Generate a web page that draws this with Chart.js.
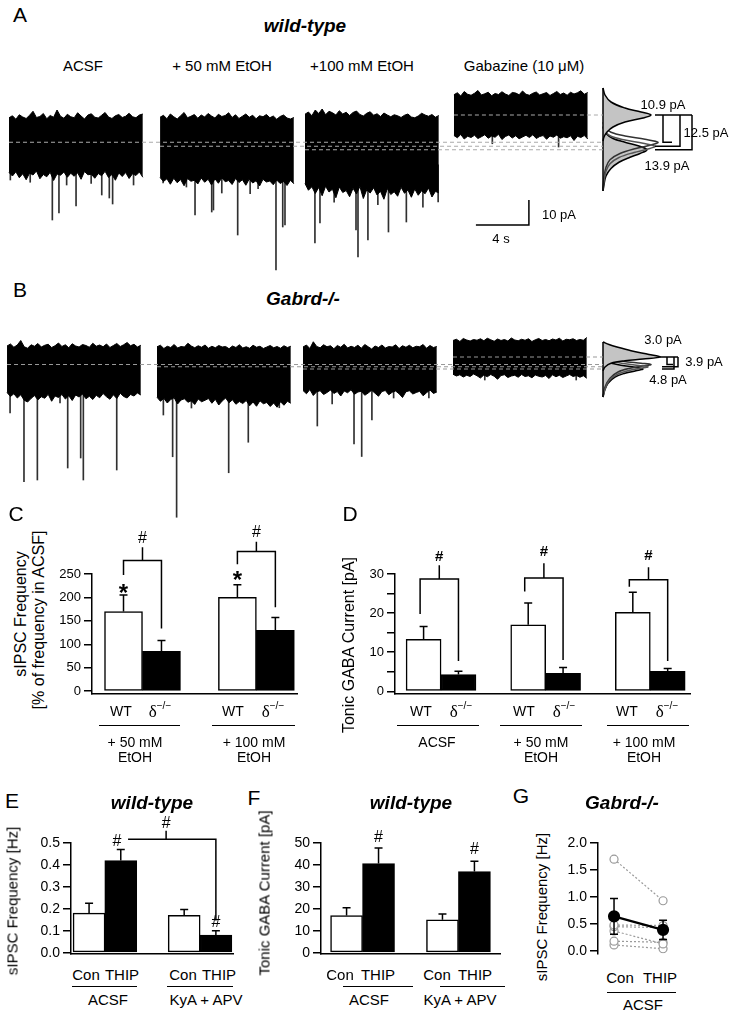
<!DOCTYPE html>
<html><head><meta charset="utf-8">
<script src="https://cdn.jsdelivr.net/npm/chart.js@4.4.1/dist/chart.umd.min.js"></script>
<style>
html,body{margin:0;padding:0;background:#fff;}
body{width:734px;height:1014px;position:relative;overflow:hidden;font-family:"Liberation Sans",Arial,sans-serif;color:#000;}
canvas{position:absolute;}
.t{position:absolute;white-space:nowrap;transform:translate(-50%,-50%);line-height:1;}
.rot{transform:translate(-50%,-50%) rotate(-90deg);}
.hl{position:absolute;height:0;border-top:1.5px solid #000;}
</style></head><body>
<canvas id="cA" width="734" height="190" style="left:0;top:85px"></canvas>
<canvas id="cB" width="734" height="195" style="left:0;top:330px"></canvas>
<canvas id="cC" width="260" height="180" style="left:50px;top:525px"></canvas>
<canvas id="cD" width="370" height="180" style="left:350px;top:525px"></canvas>
<canvas id="cE" width="220" height="165" style="left:20px;top:800px"></canvas>
<canvas id="cF" width="240" height="165" style="left:270px;top:800px"></canvas>
<canvas id="cG" width="184" height="135" style="left:550px;top:830px"></canvas>
<script>
// ===================== DATA =====================
// ---- Panels A/B: recording conditions
const conditions = ['ACSF', '+ 50 mM EtOH', '+100 mM EtOH', 'Gabazine (10 μM)'];
// mean holding current of each trace relative to ACSF (pA)
const meansA = [0, -1.6, -3.0, 10.9];
const meansB = [0, -0.9, -1.8, 3.0];
const shiftLabelsA = ['10.9 pA', '12.5 pA', '13.9 pA'];
const shiftLabelsB = ['3.0 pA', '3.9 pA', '4.8 pA'];
// noise envelope (upper / lower edge, pA relative to trace mean), 10-s traces
const topA_acsf = [9.8,10.6,9.2,11.0,10.1,9.5,10.8,12.4,9.9,10.3,11.5,9.4,10.7,10.0,12.9,10.4,9.6,11.2,10.2,9.8,11.8,10.5,9.3,10.9,11.4,10.0,9.7,10.8,11.9,10.1,9.5,10.6,11.1,9.9,10.4,11.6,10.2,9.8,10.9,11.3];
const botA_acsf = [-12.1,-13.5,-11.8,-14.2,-12.6,-15.0,-12.3,-13.1,-11.5,-14.6,-12.9,-13.8,-12.0,-15.3,-12.7,-13.2,-11.9,-14.0,-12.4,-13.6,-12.2,-14.8,-11.7,-13.0,-12.8,-14.4,-12.5,-13.4,-11.6,-14.1,-12.9,-15.2,-12.3,-13.7,-12.1,-14.5,-12.6,-13.3,-11.9,-14.0];
const topA_e50 = [11.6,12.4,11.0,12.9,11.8,10.9,12.2,13.5,11.4,12.0,12.7,11.2,12.5,11.7,13.1,12.1,11.3,12.8,11.9,12.3,13.4,11.5,12.6,11.1,12.0,12.9,11.6,12.4,11.0,12.2,11.8,12.7,11.4,12.1,10.8,11.9,12.5,11.3,10.9,11.5];
const botA_e50 = [-12.5,-14.1,-13.0,-15.2,-12.8,-14.6,-13.3,-15.8,-12.9,-14.0,-13.6,-15.1,-12.7,-14.4,-13.2,-15.5,-13.0,-14.8,-12.6,-14.2,-13.7,-15.3,-12.9,-14.5,-13.4,-15.6,-13.1,-14.7,-13.8,-15.9,-13.2,-14.3,-13.9,-15.4,-13.5,-14.9,-14.1,-15.7,-13.6,-15.0];
const topA_e100 = [14.2,15.1,13.6,15.9,14.5,16.3,14.0,15.4,14.8,13.9,15.6,14.3,15.0,13.7,14.9,15.5,14.1,13.5,14.6,15.2,13.8,14.4,13.3,14.7,13.9,13.2,14.0,13.6,12.9,13.8,14.3,13.1,12.8,13.5,14.6,13.9,13.4,14.1,13.0,13.7];
const botA_e100 = [-13.5,-16.2,-14.8,-17.5,-15.1,-18.4,-14.6,-16.9,-15.8,-19.2,-14.9,-17.1,-16.3,-18.8,-15.4,-17.7,-14.7,-19.5,-16.0,-17.3,-15.2,-18.1,-16.6,-19.8,-15.5,-17.9,-16.8,-18.6,-15.0,-17.4,-16.1,-19.0,-15.7,-18.2,-16.4,-17.6,-15.3,-18.9,-16.7,-17.2];
const topA_gab = [8.1,8.9,7.6,9.4,8.3,7.9,8.7,9.8,8.0,8.5,9.1,7.7,8.6,8.2,9.3,8.4,7.8,9.0,8.8,8.1,9.6,8.3,7.9,8.7,9.2,8.0,8.5,9.0,7.8,8.6,9.4,8.2,8.8,7.9,9.1,8.4,8.9,9.7,8.3,9.0];
const botA_gab = [-8.2,-9.1,-7.8,-9.6,-8.5,-9.0,-8.1,-9.4,-8.7,-7.9,-9.3,-8.4,-8.9,-7.7,-9.8,-8.6,-8.0,-9.2,-8.3,-9.5,-8.8,-8.1,-9.0,-7.9,-9.4,-8.6,-8.2,-9.7,-8.4,-8.9,-8.0,-9.3,-8.7,-9.1,-8.3,-10.2,-8.5,-9.0,-8.2,-9.6];
const topB_acsf = [7.4,8.2,6.9,7.8,9.6,7.1,6.5,7.9,7.3,8.4,7.0,7.7,8.1,6.8,7.5,8.6,7.2,7.9,6.7,8.3,7.4,7.0,8.0,7.6,6.9,8.5,7.3,7.8,7.1,8.2,6.8,7.6,8.4,7.2,7.9,8.8,7.5,8.1,7.0,7.7];
const botB_acsf = [-11.2,-12.8,-11.7,-13.4,-12.1,-14.3,-15.0,-13.6,-12.4,-14.1,-12.9,-13.5,-11.9,-14.7,-12.6,-13.2,-12.0,-13.8,-12.5,-14.4,-12.2,-13.0,-11.8,-13.7,-12.7,-14.0,-12.3,-13.3,-11.6,-12.9,-13.9,-12.1,-13.6,-11.5,-12.8,-13.4,-12.0,-12.6,-11.4,-12.2];
const topB_e50 = [8.0,8.6,7.3,8.2,7.7,8.9,7.5,8.1,7.9,9.4,8.3,7.6,8.4,7.8,8.7,7.4,8.2,7.6,8.5,7.9,8.1,7.2,8.3,7.7,8.8,7.5,8.0,7.4,8.6,7.8,8.2,7.3,7.9,8.5,7.6,8.1,7.4,8.4,7.7,8.2];
const botB_e50 = [-12.2,-13.8,-12.6,-14.5,-13.1,-12.4,-14.9,-13.3,-12.8,-14.2,-13.6,-15.1,-12.9,-14.0,-13.4,-12.7,-14.6,-13.0,-15.3,-13.7,-12.5,-14.4,-13.2,-15.0,-13.9,-14.7,-13.5,-15.6,-14.1,-15.8,-13.6,-14.8,-14.3,-15.9,-14.5,-16.2,-14.0,-15.4,-13.8,-14.6];
const topB_e100 = [8.8,9.6,8.2,10.9,9.0,8.5,9.7,8.9,9.3,8.1,9.4,8.7,9.9,8.4,9.1,8.6,9.5,8.3,9.8,8.9,8.0,9.2,8.6,9.6,8.4,9.0,8.8,9.7,8.2,9.3,8.7,9.5,8.5,9.1,8.9,9.8,8.3,9.4,8.6,9.0];
const botB_e100 = [-8.6,-9.9,-8.2,-10.6,-9.1,-8.7,-10.2,-9.4,-8.4,-9.8,-9.0,-10.8,-8.8,-9.5,-8.3,-10.1,-9.2,-8.9,-10.5,-9.6,-8.5,-9.7,-10.9,-9.0,-8.6,-10.3,-9.3,-8.8,-9.9,-11.4,-9.1,-8.7,-10.0,-9.4,-8.9,-10.7,-9.5,-8.4,-9.8,-9.2];
const topB_gab = [6.6,7.1,6.2,7.4,6.8,6.4,7.0,6.7,7.3,6.5,7.5,6.9,6.3,7.2,6.6,7.0,6.4,7.6,6.8,6.5,7.1,6.7,7.3,6.2,6.9,7.4,6.6,7.0,6.5,7.2,6.8,7.5,6.4,7.1,6.9,7.3,6.6,7.0,6.7,7.8];
const botB_gab = [-6.9,-7.6,-7.1,-8.0,-7.3,-7.8,-6.8,-7.5,-8.4,-7.2,-7.9,-7.0,-7.7,-8.9,-7.4,-7.1,-8.2,-7.6,-7.3,-8.1,-7.0,-7.8,-7.5,-8.3,-7.2,-7.7,-8.0,-7.4,-8.6,-7.1,-7.9,-7.3,-8.2,-7.6,-7.0,-7.8,-7.4,-8.1,-7.5,-8.5];
// sIPSC events: [time in trace (s), peak (pA rel. trace mean)]
const evA_acsf = [[0.1,-15.1],[1.6,-16.0],[3.27,-31.1],[3.77,-28.3],[4.35,-17.1],[5.06,-25.5],[6.2,-16.5],[7.0,-21.1],[7.57,-22.3],[7.82,-24.7],[9.4,-17.1]];
const evA_e50 = [[0.23,-14.7],[1.99,-16.3],[2.64,-27.5],[3.9,-26.3],[4.03,-25.5],[4.66,-18.7],[5.86,-35.5],[6.8,-19.0],[7.4,-17.0],[8.75,-49.5],[9.26,-32.3],[9.43,-31.5]];
const evA_e100 = [[0.75,-37.3],[1.13,-29.3],[2.2,-21.0],[3.85,-32.1],[4.0,-42.9],[4.75,-36.1],[5.5,-22.0],[6.3,-32.9],[7.65,-28.9],[8.9,-23.0],[10.05,-20.9]];
const evA_gab = [[2.9,-11.5],[7.9,-12.8]];
const evB_acsf = [[0.23,-19.4],[1.28,-46.9],[2.29,-46.2],[4.0,-15.4],[4.58,-41.4],[5.56,-37.4],[5.76,-46.2],[8.28,-42.2]];
const evB_e50 = [[0.48,-19.3],[1.18,-36.0],[1.48,-60.2],[2.6,-16.5],[5.41,-42.4],[6.89,-30.2],[9.23,-16.4]];
const evB_e100 = [[1.08,-22.8],[2.2,-14.0],[3.85,-30.0],[4.43,-35.0],[5.2,-20.4],[6.84,-11.6],[9.5,-11.6]];
const evB_gab = [[2.4,-9.2],[9.3,-9.2]];
// all-points histograms: [current (pA rel. ACSF mean), relative count]
const histA_gab = [[21.7,0],[18.9,2],[16.1,8],[13.7,22],[12.1,38],[10.9,48],[9.7,40],[8.1,22],[6.1,10],[4.1,4],[2.1,1],[0.5,0]];
const histA_acsf = [[8,0],[6,2],[4,8],[2.5,22],[1.2,42],[0,55],[-1.2,47],[-2.5,33],[-4.5,17],[-7,7],[-10,3],[-14,1],[-19,0]];
const histA_e50 = [[6.4,0],[4.4,2],[2.4,8],[0.9,22],[-0.4,40],[-1.6,52],[-2.8,44],[-4.1,31],[-6.1,16],[-8.6,7],[-11.6,3],[-15.6,1],[-19.5,0]];
const histA_e100 = [[6,0],[3.5,3],[1.5,10],[0,22],[-1.5,36],[-3,44],[-4.5,37],[-6,27],[-8,16],[-10.5,8],[-13.5,3],[-17,1],[-19.5,0]];
const histB_gab = [[9,0],[8,6],[7,14],[5.5,28],[4,46],[3,57],[2.2,40],[1.5,22],[0.5,8],[-1,2],[-2.5,0]];
const histB_acsf = [[4,0],[2.5,6],[1.3,20],[0.5,38],[0,48],[-0.6,40],[-1.5,27],[-3,15],[-5.5,7],[-9,2],[-13,0]];
const histB_e50 = [[3,0],[1.6,6],[0.4,20],[-0.4,36],[-0.9,45],[-1.5,38],[-2.4,26],[-4,14],[-6.5,6],[-10,2],[-13,0]];
const histB_e100 = [[2,0],[0.8,6],[-0.3,18],[-1.1,32],[-1.8,40],[-2.5,33],[-3.5,22],[-5,12],[-7.5,5],[-10.5,1.5],[-13,0]];
const scaleBar = {s: 4, pA: 10};

// ---- Panel C
const catsC = ['WT', 'δ', 'WT', 'δ'];
const groupsC = [['+ 50 mM', 'EtOH'], ['+ 100 mM', 'EtOH']];
const valsC = [170, 85, 200, 130];
const errC = [35, 23, 27, 27];
const ticksC = [0, 50, 100, 150, 200, 250];
// ---- Panel D
const catsD = ['WT', 'δ', 'WT', 'δ', 'WT', 'δ'];
const groupsD = [['ACSF'], ['+ 50 mM', 'EtOH'], ['+ 100 mM', 'EtOH']];
const valsD = [13.3, 4.3, 17.0, 4.6, 20.2, 5.1];
const errD = [3.3, 0.8, 5.6, 1.5, 5.1, 0.7];
const ticksD = [0, 10, 20, 30];
const minorTicksD = [5, 15, 25];
// ---- Panel E
const catsE = ['Con', 'THIP', 'Con', 'THIP'];
const groupsE = ['ACSF', 'KyA + APV'];
const valsE = [0.18, 0.42, 0.17, 0.08];
const errE = [0.045, 0.05, 0.027, 0.02];
const ticksE = [0, 0.1, 0.2, 0.3, 0.4, 0.5];
const tickLabelsE = ['0.0', '0.1', '0.2', '0.3', '0.4', '0.5'];
// ---- Panel F
const catsF = ['Con', 'THIP', 'Con', 'THIP'];
const groupsF = ['ACSF', 'KyA + APV'];
const valsF = [16.9, 40.6, 15.0, 37.0];
const errF = [3.6, 7.1, 2.6, 4.7];
const ticksF = [0, 10, 20, 30, 40, 50];
// ---- Panel G
const catsG = ['Con', 'THIP'];
const cellsCon = [1.70, 0.48, 0.45, 0.37, 0.18, 0.11];
const cellsTHIP = [0.93, 0.47, 0.43, 0.13, 0.16, 0.04];
const meanG = [0.64, 0.39];
const semG = [0.33, 0.18];
const ticksG = [0, 0.5, 1.0, 1.5, 2.0];
const tickLabelsG = ['0.0', '0.5', '1.0', '1.5', '2.0'];

// ===================== LAYOUT / STYLE =====================
const FONT = '"Liberation Sans", Arial, sans-serif';
Chart.defaults.font.family = FONT;
Chart.defaults.color = '#000';
const TRACE_LEN = 10.1;          // s
const X_MAX = 55.4;              // s across page width
const HIST_T = 45.51;            // time position of histogram axis
const startsA = [0.68, 12.08, 23.02, 34.26];
const startsB = [0.53, 11.85, 22.87, 34.19];
const barAnchor = {t: 35.92, y: -33.1};

function T(html, x, y, css, cls) {
  const d = document.createElement('div');
  d.className = 't' + (cls ? ' ' + cls : '');
  d.innerHTML = html; d.style.left = x + 'px'; d.style.top = y + 'px';
  if (css) d.style.cssText += css;
  document.body.appendChild(d);
}
function HL(x1, x2, y) {
  const d = document.createElement('div'); d.className = 'hl';
  d.style.left = x1 + 'px'; d.style.width = (x2 - x1) + 'px'; d.style.top = y + 'px';
  document.body.appendChild(d);
}

// ---------- trace charts ----------
const histBr = {
  id: 'histBr',
  afterDatasetsDraw(chart, a, o) {
    if (!o || !o.legs) return;
    const ctx = chart.ctx, X = chart.scales.x2, Y = chart.scales.y;
    const px = v => X.getPixelForValue(v), py = v => Y.getPixelForValue(v);
    ctx.save(); ctx.strokeStyle = '#000'; ctx.lineWidth = 1.5; ctx.beginPath();
    ctx.moveTo(px(o.top[0]), py(o.g)); ctx.lineTo(px(o.top[1]), py(o.g));
    o.legs.forEach((l, i) => {
      ctx.moveTo(px(l[0]), py(o.g)); ctx.lineTo(px(l[0]), py(o.means[i])); ctx.lineTo(px(l[1]), py(o.means[i]));
    });
    ctx.stroke(); ctx.restore();
  }
};

function traceChart(id, tops, bots, evs, means, starts, hists, yMin, yMax, br, withBar, dashColor) {
  const ds = [], spk = [];
  for (let k = 0; k < tops.length; k++) {
    const n = tops[k].length, dt = TRACE_LEN / (n - 1), s = starts[k], m = means[k];
    ds.push({type: 'line', data: tops[k].map((v, i) => ({x: s + i * dt, y: m + v})), borderColor: '#000', backgroundColor: '#000', borderWidth: 1, pointRadius: 0, fill: '+1', order: 5});
    ds.push({type: 'line', data: bots[k].map((v, i) => ({x: s + i * dt, y: m + v})), borderColor: '#000', backgroundColor: '#000', borderWidth: 1, pointRadius: 0, fill: false, order: 5});
    evs[k].forEach(([t, a]) => spk.push({x: s + t, y: [m - 6, m + a]}));
    ds.push({type: 'line', data: [{x: s, y: m}, {x: HIST_T, y: m}], borderColor: dashColor, borderDash: [4, 3], borderWidth: 1, pointRadius: 0, fill: false, order: 1});
  }
  ds.push({type: 'bar', data: spk, backgroundColor: '#303030', barThickness: 1, grouped: false, order: 6});
  const hs = [
    {h: hists[3], fill: 'shape', bg: '#c4c4c4', bc: '#000'},
    {h: hists[1], fill: false, bg: 'transparent', bc: '#333'},
    {h: hists[2], fill: false, bg: 'transparent', bc: '#555'},
    {h: hists[0], fill: 'shape', bg: '#c4c4c4', bc: '#000'}
  ];
  hs.forEach((o, i) => ds.push({type: 'line', xAxisID: 'x2', data: o.h.map(([a, c]) => ({x: c, y: a})), borderColor: o.bc, backgroundColor: o.bg, fill: o.fill, tension: 0.35, borderWidth: 1.5, pointRadius: 0, order: 4 - i * 0.1}));
  ds.push({type: 'line', xAxisID: 'x2', data: [{x: 0, y: hists[0][0][0]}, {x: 0, y: hists[3][hists[3].length - 1][0]}], borderColor: '#000', borderWidth: 1.5, pointRadius: 0, fill: false, order: 2});
  if (withBar) {
    ds.push({type: 'line', data: [{x: barAnchor.t, y: barAnchor.y}, {x: barAnchor.t + scaleBar.s, y: barAnchor.y}, {x: barAnchor.t + scaleBar.s, y: barAnchor.y + scaleBar.pA}], borderColor: '#000', borderWidth: 1.5, pointRadius: 0, fill: false, order: 1});
  }
  new Chart(document.getElementById(id), {
    type: 'line',
    data: {datasets: ds},
    options: {
      responsive: false, devicePixelRatio: 1, animation: false, events: [],
      layout: {padding: 0},
      plugins: {legend: {display: false}, tooltip: {enabled: false}, histBr: br},
      scales: {
        x: {type: 'linear', display: false, min: 0, max: X_MAX, offset: false},
        x2: {type: 'linear', display: false, min: -603, max: 131, offset: false},
        y: {type: 'linear', display: false, min: yMin, max: yMax}
      }
    },
    plugins: [histBr]
  });
}

traceChart('cA', [topA_acsf, topA_e50, topA_e100, topA_gab], [botA_acsf, botA_e50, botA_e100, botA_gab],
  [evA_acsf, evA_e50, evA_e100, evA_gab], meansA, startsA, [histA_gab, histA_acsf, histA_e50, histA_e100],
  -53.1, 22.9, {g: meansA[3], means: meansA.slice(0, 3), top: [52, 89], legs: [[60, 69], [77, 52], [89, 52]]}, true, '#aaaaaa');
traceChart('cB', [topB_acsf, topB_e50, topB_e100, topB_gab], [botB_acsf, botB_e50, botB_e100, botB_gab],
  [evB_acsf, evB_e50, evB_e100, evB_gab], meansB, startsB, [histB_gab, histB_acsf, histB_e50, histB_e100],
  -64.2, 13.8, {g: meansB[3], means: meansB.slice(0, 3), top: [57, 75], legs: [[64, 70], [75, 59], [71, 59]]}, false, '#999999');

// ---------- bar charts ----------
const deco = {
  id: 'deco',
  afterDatasetsDraw(chart, a, o) {
    const ctx = chart.ctx, X = chart.scales.x, Y = chart.scales.y;
    const px = v => X.getPixelForValue(v), py = v => Y.getPixelForValue(v);
    ctx.save(); ctx.strokeStyle = '#000'; ctx.lineWidth = 1.5; ctx.beginPath();
    (o.err || []).forEach((e, i) => {
      const x = px(o.pos[i]), y0 = py(o.val[i] - (o.both ? e : 0)), y1 = py(o.val[i] + e);
      ctx.moveTo(x, o.both ? y0 : py(o.val[i])); ctx.lineTo(x, y1);
      ctx.moveTo(x - 4, y1); ctx.lineTo(x + 4, y1);
      if (o.both) { ctx.moveTo(x - 4, y0); ctx.lineTo(x + 4, y0); }
    });
    (o.brackets || []).forEach(b => {
      if (b.y1 != null) { ctx.moveTo(px(b.x1), py(b.y1)); ctx.lineTo(px(b.x1), py(b.top)); }
      else ctx.moveTo(px(b.x1), py(b.top));
      ctx.lineTo(px(b.x2), py(b.top)); ctx.lineTo(px(b.x2), py(b.y2));
      const cx = b.cx != null ? b.cx : (b.x1 + b.x2) / 2;
      ctx.moveTo(px(cx), py(b.top)); ctx.lineTo(px(cx), py(b.tick));
    });
    ctx.stroke();
    ctx.fillStyle = '#000'; ctx.textAlign = 'center'; ctx.textBaseline = 'middle';
    (o.marks || []).forEach(m => { ctx.font = m.f; ctx.fillText(m.t, px(m.x), py(m.y)); });
    ctx.restore();
  }
};

function yAxis(min, max, ticks, labels, size, minor) {
  const all = ticks.concat(minor || []).sort((p, q) => p - q);
  return {
    type: 'linear', min, max,
    afterBuildTicks: ax => { ax.ticks = all.map(v => ({value: v})); },
    afterFit: ax => { ax.width = 40; },
    ticks: {autoSkip: false, maxRotation: 0, padding: 3, color: '#000', font: {family: FONT, size},
      callback: v => { const i = ticks.indexOf(v); return i < 0 ? '' : String(labels ? labels[i] : v); }},
    grid: {display: true, drawOnChartArea: false, drawTicks: true, tickLength: 8, color: '#000', lineWidth: 1.5},
    border: {display: true, color: '#000', width: 1.5}
  };
}
const xAxisLine = (min, max, show) => ({
  type: 'linear', min, max, offset: false, display: true,
  ticks: {display: false}, grid: {display: false, drawTicks: false},
  border: {display: show, color: '#000', width: 1.5},
  afterFit: ax => { ax.height = 0; }
});

function barChart(id, pos, vals, cols, thick, xr, yax, pad, decoOpts) {
  new Chart(document.getElementById(id), {
    type: 'bar',
    data: {datasets: [{data: pos.map((p, i) => ({x: p, y: vals[i]})), backgroundColor: cols, borderColor: '#000', borderWidth: 1.5, borderSkipped: false, barThickness: thick, grouped: false}]},
    options: {
      responsive: false, devicePixelRatio: 1, animation: false, events: [],
      layout: {padding: pad},
      plugins: {legend: {display: false}, tooltip: {enabled: false}, deco: Object.assign({pos, val: vals}, decoOpts)},
      scales: {x: xAxisLine(xr[0], xr[1], true), y: yax}
    },
    plugins: [deco]
  });
}
const WB = ['#fff', '#000'];
const hashF = '16px ' + FONT;
const starF = 'bold 24px ' + FONT;

// C
barChart('cC', [0, 1, 3, 4], valsC, [WB[0], WB[1], WB[0], WB[1]], 38, [-0.83, 4.57],
  yAxis(-6.3, 250, ticksC, null, 13), {left: 2, top: 49, right: 13, bottom: 8},
  {err: errC, brackets: [{x1: 0, x2: 1, y1: 248, top: 279, y2: 134, tick: 307}, {x1: 3, x2: 4, y1: 271, top: 298, y2: 179, tick: 319}],
   marks: [{t: '#', x: 0.5, y: 325, f: hashF}, {t: '#', x: 3.5, y: 338, f: hashF}, {t: '*', x: 0, y: 206, f: starF}, {t: '*', x: 3, y: 234, f: starF}]});
// D
barChart('cD', [0, 1, 3, 4, 6, 7], valsD, [WB[0], WB[1], WB[0], WB[1], WB[0], WB[1]], 35, [-0.82, 7.64],
  yAxis(-0.75, 30, ticksD, null, 13, minorTicksD), {left: 5, top: 49, right: 30, bottom: 8},
  {err: errD, brackets: [{x1: -0.1, x2: 1, y1: 19.75, top: 28.75, y2: 7.75, tick: 32.25}, {x1: 2.9, x2: 4, y1: 25.5, top: 29, y2: 8, tick: 32.75}, {x1: 5.9, x2: 7, y1: 26.75, top: 28.5, y2: 7.75, tick: 31.75}],
   marks: [{t: '#', x: 0.45, y: 34.4, f: 'bold 15px ' + FONT}, {t: '#', x: 3.45, y: 35.6, f: 'bold 15px ' + FONT}, {t: '#', x: 6.45, y: 34.6, f: 'bold 15px ' + FONT}]});
// E
barChart('cE', [0, 1, 3, 4], valsE, [WB[0], WB[1], WB[0], WB[1]], 32, [-0.57, 4.54],
  yAxis(-0.0043, 0.5, ticksE, tickLabelsE, 14), {left: 11, top: 43, right: 7, bottom: 5},
  {err: errE, brackets: [{x1: 1.23, x2: 4, y1: null, top: 0.517, y2: 0.147, tick: 0.556, cx: 2.43}],
   marks: [{t: '#', x: 0.88, y: 0.506, f: hashF}, {t: '#', x: 4, y: 0.139, f: hashF}, {t: '#', x: 2.43, y: 0.588, f: hashF}]});
// F
barChart('cF', [0, 1, 3, 4], valsF, [WB[0], WB[1], WB[0], WB[1]], 32, [-0.8, 4.8],
  yAxis(-0.43, 50, ticksF, null, 14), {left: 11, top: 43, right: 10, bottom: 5},
  {err: errF, marks: [{t: '#', x: 1, y: 52.4, f: hashF}, {t: '#', x: 4, y: 47.2, f: hashF}]});

// G
(function () {
  const ds = cellsCon.map((c, i) => ({
    type: 'line', data: [{x: 0, y: c}, {x: 1, y: cellsTHIP[i]}], borderColor: '#9a9a9a', borderDash: [2, 2], borderWidth: 1.2,
    pointRadius: 4, pointBorderColor: '#9a9a9a', pointBackgroundColor: '#fff', pointBorderWidth: 1.2, fill: false, order: 3
  }));
  ds.unshift({type: 'line', data: meanG.map((m, i) => ({x: i, y: m})), borderColor: '#000', borderWidth: 2.2, pointRadius: 5,
    pointBackgroundColor: '#000', pointBorderColor: '#000', fill: false, order: 1});
  new Chart(document.getElementById('cG'), {
    type: 'line', data: {datasets: ds},
    options: {
      responsive: false, devicePixelRatio: 1, animation: false, events: [],
      layout: {padding: {left: 8, top: 13, right: 44, bottom: 6}},
      plugins: {legend: {display: false}, tooltip: {enabled: false}, deco: {pos: [0, 1], val: meanG, err: semG, both: true}},
      scales: {x: xAxisLine(-0.327, 1.55, false), y: yAxis(-0.05, 2.0, ticksG, tickLabelsG, 14)}
    },
    plugins: [deco]
  });
})();

// ===================== TEXT =====================
const LET = 'font-size:21px;';
const TIT = 'font-size:19px;font-weight:bold;font-style:italic;';
T('A', 20, 14, LET); T('B', 20, 289, LET); T('C', 16, 513, LET); T('D', 350, 513, LET);
T('E', 12, 800, LET); T('F', 254, 797, LET); T('G', 521, 795, LET);
T('wild-type', 305, 25, TIT); T('Gabrd-/-', 303, 298, TIT);
T('wild-type', 152, 802, TIT); T('wild-type', 411, 802, TIT); T('Gabrd-/-', 622, 802, TIT);
const condX = [83, 222, 362, 524];
conditions.forEach((c, i) => T(c, condX[i], 65, 'font-size:15px;'));
T(shiftLabelsA[0], 663, 104, 'font-size:13px;'); T(shiftLabelsA[1], 706, 132, 'font-size:13px;'); T(shiftLabelsA[2], 667, 165, 'font-size:13px;');
T(shiftLabelsB[0], 663, 339, 'font-size:13px;'); T(shiftLabelsB[1], 704, 361, 'font-size:13px;'); T(shiftLabelsB[2], 668, 379, 'font-size:13px;');
T(scaleBar.pA + ' pA', 559, 214, 'font-size:13px;'); T(scaleBar.s + ' s', 501, 238, 'font-size:13px;');

const dLab = '<span style="font-family:\'Liberation Serif\',serif;font-size:17px">δ</span><span style="font-size:10px;position:relative;top:-8px">−/−</span>';
const catHtml = c => c === 'δ' ? dLab : c;
// C labels
const cxC = [121, 160, 233, 273];
catsC.forEach((c, i) => T(catHtml(c), cxC[i], 711, 'font-size:14px;'));
HL(99, 180, 725); HL(212, 295, 725);
[135, 254].forEach((x, g) => { T(groupsC[g][0], x, 742, 'font-size:14px;'); T(groupsC[g][1], x, 757, 'font-size:14px;'); });
T('sIPSC Frequency', 21, 614, 'font-size:16px;', 'rot');
T('[% of frequency in ACSF]', 39, 620, 'font-size:16px;', 'rot');
// D labels
const cxD = [421, 461, 524, 564, 627, 667];
catsD.forEach((c, i) => T(catHtml(c), cxD[i], 711, 'font-size:14px;'));
HL(397, 479, 725); HL(500, 582, 725); HL(607, 689, 725);
[437, 541, 644].forEach((x, g) => groupsD[g].forEach((s, j) => T(s, x, 742 + 15 * j, 'font-size:14px;')));
T('Tonic GABA Current [pA]', 349, 645, 'font-size:16px;', 'rot');
// E labels
[86, 122, 183, 219].forEach((x, i) => T(catsE[i], x, 974, 'font-size:15px;'));
HL(72, 137, 986); HL(167, 233, 986);
T(groupsE[0], 108, 999, 'font-size:15px;'); T(groupsE[1], 206, 999, 'font-size:15px;');
T('sIPSC Frequency [Hz]', 12, 901, 'font-size:15px;', 'rot');
// F labels
[340, 378, 437, 475].forEach((x, i) => T(catsF[i], x, 974, 'font-size:15px;'));
HL(343, 413, 986); HL(440, 505, 986);
T(groupsF[0], 369, 999, 'font-size:15px;'); T(groupsF[1], 460, 999, 'font-size:15px;');
T('Tonic GABA Current [pA]', 264, 893, 'font-size:15px;', 'rot');
// G labels
[620, 660].forEach((x, i) => T(catsG[i], x, 977, 'font-size:15px;'));
HL(607, 676, 992);
T('ACSF', 643, 1004, 'font-size:15px;');
T('sIPSC Frequency [Hz]', 541, 907, 'font-size:15px;', 'rot');
</script>
</body></html>
